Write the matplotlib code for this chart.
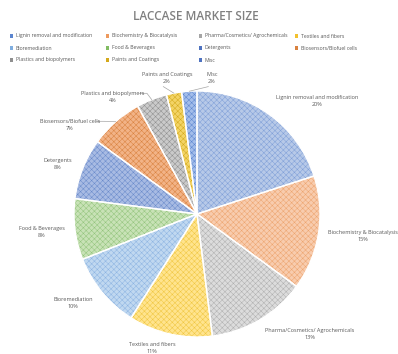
import numpy as np
import matplotlib
matplotlib.use("Agg")
import matplotlib.pyplot as plt
from matplotlib.patches import Rectangle

categories = ["Lignin removal and modification", "Biochemistry & Biocatalysis",
              "Pharma/Cosmetics/ Agrochemicals", "Textiles and fibers", "Bioremediation",
              "Food & Beverages", "Detergents", "Biosensors/Biofuel cells",
              "Plastics and biopolymers", "Paints and Coatings", "Misc"]
values = [20, 15, 13, 11, 10, 8, 8, 7, 4, 2, 2]

fills = ['#B7C9E8', '#F8CCAE', '#DCDCDC', '#FFE48E', '#C0D8F0', '#C8E2B6',
         '#A8BBE3', '#F2B387', '#CACACA', '#F3D466', '#A3BDEA']
hatchc = ['#7F9FD8', '#EDA46E', '#AFAFAF', '#F0C640', '#8DB4E2', '#93C47D',
          '#6A8BCB', '#D9823F', '#8F8F8F', '#D4A91C', '#5B85CF']
legend_c = ['#5B85CF', '#ED9A5E', '#A5A5A5', '#F2C12E', '#7FAEE0', '#82BC63',
            '#4E72C0', '#D9823F', '#8F8F8F', '#D4A91C', '#4E72C0']

# layout (figure pixels from top-left)
label_px = [(317, 101), (363, 236), (310, 334), (152, 348), (73, 303),
            (42, 232), (58, 164), (70, 125), (113, 97), (167, 78), (212, 78)]
leader = [False, False, False, False, False, False, False, True, True, True, True]
legend_cols = [10, 106, 199, 295]
legend_rows = [36, 48, 60]

W, H = 398, 354
fig = plt.figure(figsize=(W/100, H/100), dpi=100)
cx, cy, R = 197, 214, 123
ax = fig.add_axes([(cx-R)/W, (H-cy-R)/H, 2*R/W, 2*R/H])

kw = dict(startangle=90, counterclock=False, radius=1, center=(0, 0))
w1, _ = ax.pie(values, colors=fills, wedgeprops=dict(linewidth=0), **kw)
plt.rcParams['hatch.linewidth'] = 0.35
w2, _ = ax.pie(values, colors=['none']*len(values), wedgeprops=dict(linewidth=0), **kw)
for w, hc in zip(w2, hatchc):
    w.set_facecolor('none'); w.set_edgecolor(hc); w.set_hatch('xxxxxx'); w.set_linewidth(0)
w3, _ = ax.pie(values, colors=['none']*len(values), wedgeprops=dict(linewidth=1.0, edgecolor='white'), **kw)
for w in w3:
    w.set_facecolor('none')
ax.set_xlim(-1, 1); ax.set_ylim(-1, 1); ax.set_aspect('equal'); ax.axis('off')

def px2data(px, py):
    return ((px - cx) / R, (cy - py) / R)

fnt = 'Open Sans'
cum = np.cumsum([0] + values)
tot = sum(values)
for i, (cat, v) in enumerate(zip(categories, values)):
    x, y = px2data(*label_px[i])
    ax.text(x, y, f"{cat}\n{v}%", ha='center', va='center', fontsize=3.95,
            color='#595959', family=fnt, linespacing=1.3, clip_on=False)
    if leader[i]:
        mid = 90 - 360 * (cum[i] + v / 2) / tot
        ex, ey = np.cos(np.radians(mid)), np.sin(np.radians(mid))
        tw = len(cat) * 0.009
        if i in (7, 8):
            sx = x + tw
            ax.plot([sx, sx + 0.06, ex], [y + 0.03, y + 0.03, ey], color='#A6A6A6', lw=0.5, clip_on=False)
        else:
            ax.plot([x + (0.03 if ex > 0 else -0.03), ex], [y - 0.07, ey], color='#A6A6A6', lw=0.5, clip_on=False)

fig.text(196/W, 1 - 17/H, "LACCASE MARKET SIZE", ha='center', va='center', fontsize=8.5,
         color='#808080', family=fnt, fontweight='semibold')

# legend, row-major, 4 columns
for i, (cat, c) in enumerate(zip(categories, legend_c)):
    r, col = divmod(i, 4)
    lx, ly = legend_cols[col], legend_rows[r]
    s = 3.2
    fig.patches.append(Rectangle((lx / W, 1 - (ly + s / 2) / H), s / W, s / H,
                                 transform=fig.transFigure, facecolor=c, edgecolor='none'))
    fig.text((lx + s + 2.5) / W, 1 - ly / H, cat, ha='left', va='center', fontsize=3.7,
             color='#595959', family=fnt)

fig.savefig('out.png', dpi=100, facecolor='white')
